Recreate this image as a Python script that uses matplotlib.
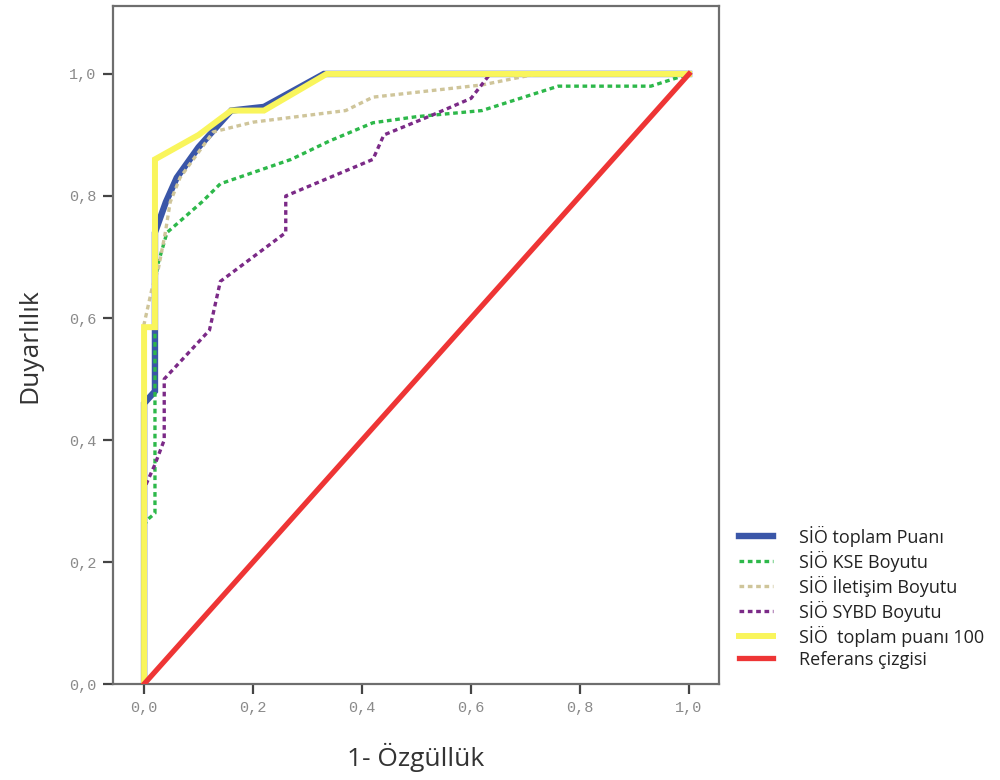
import matplotlib
matplotlib.use("Agg")
import matplotlib.pyplot as plt

# --- data ---
toplam_x = [0.0, 0.0, 0.02, 0.02, 0.04, 0.06, 0.10, 0.13, 0.16, 0.22, 0.33, 1.0]
toplam_y = [0.0, 0.46, 0.48, 0.74, 0.79, 0.83, 0.88, 0.91, 0.94, 0.946, 1.0, 1.0]

kse_x = [0.0, 0.0, 0.007, 0.02, 0.02, 0.026, 0.042, 0.106, 0.14, 0.27, 0.34, 0.42, 0.50, 0.62, 0.76, 0.93, 1.0]
kse_y = [0.0, 0.26, 0.27, 0.28, 0.66, 0.69, 0.74, 0.79, 0.82, 0.86, 0.89, 0.92, 0.93, 0.94, 0.98, 0.98, 1.0]

ilet_x = [0.0, 0.0, 0.015, 0.026, 0.039, 0.048, 0.066, 0.127, 0.20, 0.37, 0.42, 0.62, 0.72, 1.0]
ilet_y = [0.0, 0.59, 0.65, 0.68, 0.74, 0.79, 0.83, 0.905, 0.921, 0.94, 0.962, 0.982, 1.0, 1.0]

sybd_x = [0.0, 0.0, 0.005, 0.02, 0.037, 0.037, 0.12, 0.14, 0.26, 0.26, 0.34, 0.42, 0.44, 0.53, 0.60, 0.635, 1.0]
sybd_y = [0.0, 0.32, 0.33, 0.36, 0.40, 0.50, 0.58, 0.66, 0.74, 0.80, 0.83, 0.86, 0.90, 0.933, 0.96, 1.0, 1.0]

t100_x = [0.0, 0.0, 0.02, 0.02, 0.10, 0.16, 0.22, 0.335, 1.0]
t100_y = [0.0, 0.585, 0.585, 0.86, 0.90, 0.94, 0.94, 1.0, 1.0]

ref_x = [0.0, 1.0]
ref_y = [0.0, 1.0]

xticks = [0.0, 0.2, 0.4, 0.6, 0.8, 1.0]
yticks = [0.0, 0.2, 0.4, 0.6, 0.8, 1.0]
xticklabels = ["0,0", "0,2", "0,4", "0,6", "0,8", "1,0"]
yticklabels = ["0,0", "0,2", "0,4", "0,6", "0,8", "1,0"]

labels = ["SİÖ toplam Puanı", "SİÖ KSE Boyutu", "SİÖ İletişim Boyutu",
          "SİÖ SYBD Boyutu", "SİÖ  toplam puanı 100", "Referans çizgisi"]

# --- figure ---
fig = plt.figure(figsize=(10, 7.8), dpi=100)
ax = fig.add_axes([0.113, 0.123, 0.606, 0.869])

dot = (0, (1.4, 1.1))
l_blue, = ax.plot(toplam_x, toplam_y, color="#3a56a8", lw=4.6, solid_joinstyle="miter", zorder=2)
l_green, = ax.plot(kse_x, kse_y, color="#2db84a", lw=2.4, ls=dot, zorder=3)
l_tan, = ax.plot(ilet_x, ilet_y, color="#cfc59a", lw=2.4, ls=dot, zorder=3)
l_purp, = ax.plot(sybd_x, sybd_y, color="#7b2a87", lw=2.4, ls=dot, zorder=3)
l_yel, = ax.plot(t100_x, t100_y, color="#f9f55c", lw=4.3, solid_joinstyle="miter", zorder=4)
l_red, = ax.plot(ref_x, ref_y, color="#ee3535", lw=3.8, zorder=5)

ax.set_xlim(-0.057, 1.055)
ax.set_ylim(0.0, 1.111)
ax.set_xticks(xticks)
ax.set_xticklabels(xticklabels)
ax.set_yticks(yticks)
ax.set_yticklabels(yticklabels)

for s in ax.spines.values():
    s.set_color("#6e6e6e")
    s.set_linewidth(1.6)
ax.tick_params(direction="out", length=7, width=1.6, color="#444444",
               labelcolor="#8a8a8a", labelsize=11, pad=5)
for lab in ax.get_xticklabels() + ax.get_yticklabels():
    lab.set_family(["Liberation Mono", "DejaVu Sans Mono"])

ax.set_xlabel("1- Özgüllük", fontsize=19, color="#333333",
              family=["Open Sans", "DejaVu Sans"], va="center")
ax.set_ylabel("Duyarlılık", fontsize=19, color="#333333",
              family=["Open Sans", "DejaVu Sans"], va="center")
ax.xaxis.set_label_coords(0.5, -0.108)
ax.yaxis.set_label_coords(-0.137, 0.5)

handles = [l_blue, l_green, l_tan, l_purp, l_yel, l_red]
leg = fig.legend(handles, labels, loc="upper left", bbox_to_anchor=(0.739, 0.326),
                 frameon=False, handlelength=1.9, handletextpad=1.4,
                 labelspacing=0.22, borderaxespad=0, borderpad=0,
                 prop={"family": ["Open Sans", "DejaVu Sans"], "size": 13})
for t in leg.get_texts():
    t.set_color("#222222")

fig.savefig("out.png", dpi=100)
